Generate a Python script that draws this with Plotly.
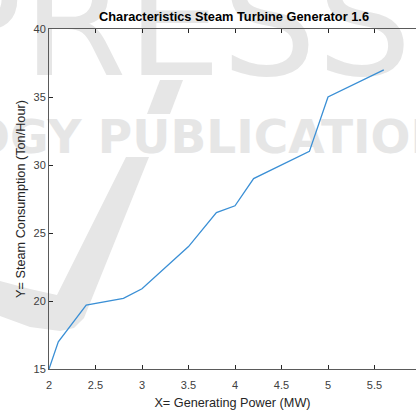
import plotly.graph_objects as go

# generating power (MW) vs steam consumption (ton/hour)
power_mw = [2.0, 2.1, 2.4, 2.8, 3.0, 3.5, 3.8, 4.0, 4.2, 4.8, 5.0, 5.6]
steam_tph = [15.0, 17.0, 19.7, 20.2, 20.9, 24.0, 26.5, 27.0, 29.0, 31.0, 35.0, 37.0]

x_ticks = [2, 2.5, 3, 3.5, 4, 4.5, 5, 5.5, 6]
y_ticks = [15, 20, 25, 30, 35, 40]

TITLE = "Characteristics Steam Turbine Generator 1.6"
X_LABEL = "X= Generating Power (MW)"
Y_LABEL = "Y= Steam Consumption (Ton/Hour)"

W, H = 416, 412
# plot box in pixels (the right part of the original axes is cut off)
L, R, T, B = 49, 416, 29, 369
PX_PER_X = 93.0

AXIS_GREY = '#262626'
WM_GREY = '#e6e6e6'
FONT = "Liberation Sans, Arial, sans-serif"


def to_paper(x, y):
    return (x - L) / (R - L), (B - y) / (B - T)


def poly_path(points):
    pts = [to_paper(x, y) for x, y in points]
    return "M " + " L ".join(f"{a:.4f},{b:.4f}" for a, b in pts) + " Z"


def wm_text(text, cx, cy, size, weight):
    x, y = to_paper(cx, cy)
    return dict(
        type='rect', xref='paper', yref='paper', layer='below',
        x0=x - 0.01, x1=x + 0.01, y0=y - 0.01, y1=y + 0.01,
        line=dict(width=0), fillcolor='rgba(0,0,0,0)',
        label=dict(text=text, textposition='middle center',
                   font=dict(family="DejaVu Sans", size=size, color=WM_GREY,
                             weight=weight)),
    )


# faint publisher watermark behind the plot
watermark = [
    wm_text("PRESS", 172, 12, 150, 'normal'),
    wm_text("TECHNOLOGY PUBLICATIONS", 104, 133, 47, 'bold'),
    dict(type='path', xref='paper', yref='paper', layer='below',
         line=dict(width=0), fillcolor=WM_GREY,
         path=poly_path([(160, 80), (183, 80), (170, 114), (147, 114)])),
    dict(type='path', xref='paper', yref='paper', layer='below',
         line=dict(width=0), fillcolor=WM_GREY,
         path=poly_path([(126, 157), (149, 157), (84, 318), (74, 328),
                         (60, 331), (30, 327), (0, 316), (0, 281),
                         (30, 289), (57, 295)])),
]

fig = go.Figure()
fig.add_trace(go.Scatter(
    x=power_mw, y=steam_tph, mode='lines',
    line=dict(color='#3a8fd5', width=1.3),
    showlegend=False,
))

axis_common = dict(
    showgrid=False, zeroline=False,
    showline=True, linecolor='#5a5a5a', linewidth=1,
    ticks='inside', ticklen=4, tickwidth=1, tickcolor=AXIS_GREY,
    tickfont=dict(family=FONT, size=11, color='#404040'),
    automargin=False,
)

fig.update_layout(
    width=W, height=H,
    margin=dict(l=L, r=W - R, t=T, b=H - B),
    paper_bgcolor='white',
    plot_bgcolor='rgba(0,0,0,0)',
    shapes=watermark,
    title=dict(
        text=f"<b>{TITLE}</b>",
        x=(234 - L) / (R - L), xref='paper', xanchor='center',
        y=1 - 17 / H, yref='container', yanchor='middle',
        font=dict(family=FONT, size=12.8, color='black'),
    ),
    xaxis=dict(
        axis_common, range=[2, 2 + (R - L) / PX_PER_X],
        tickvals=x_ticks, ticktext=[f"{v:g}" for v in x_ticks],
        mirror='ticks', ticklabelstandoff=6,
        title=dict(text=X_LABEL, standoff=7,
                   font=dict(family=FONT, size=12.7, color=AXIS_GREY)),
    ),
    yaxis=dict(
        axis_common, range=[15, 40],
        tickvals=y_ticks, ticktext=[str(v) for v in y_ticks],
        mirror=False,
        title=dict(text=Y_LABEL, standoff=5,
                   font=dict(family=FONT, size=12.7, color=AXIS_GREY)),
    ),
)

# the page's default body margin would push the figure 8px off the corner
fig.write_html("out.html", config={'displayModeBar': False},
               post_script="document.body.style.margin = '0';")
